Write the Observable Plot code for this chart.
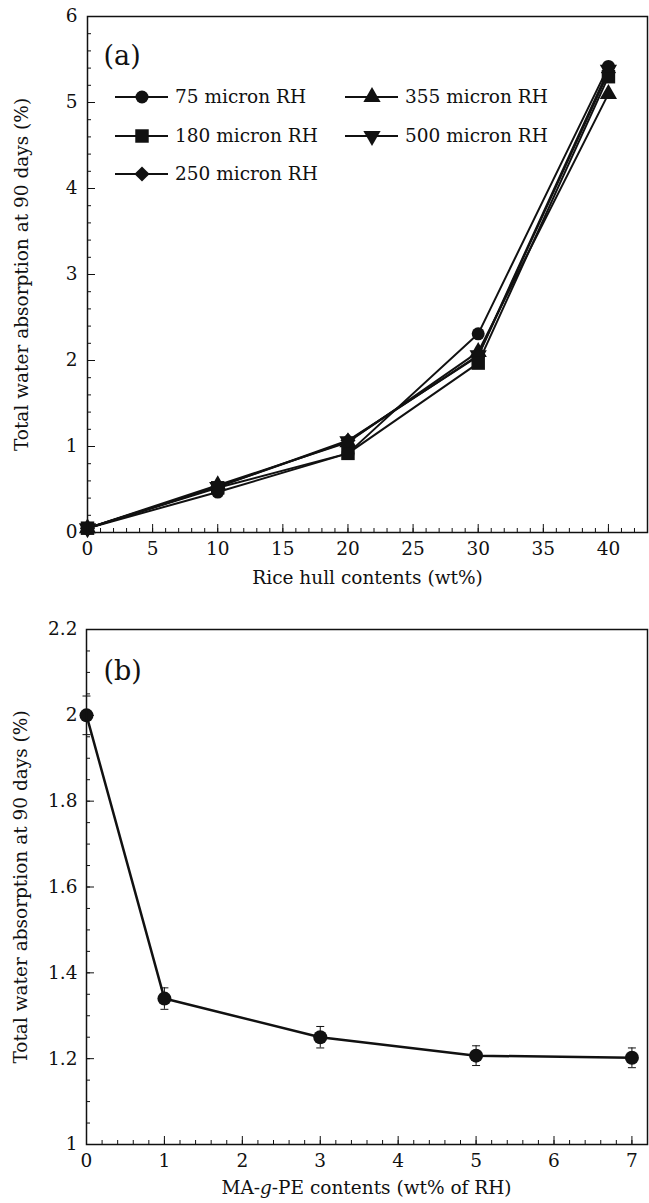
<!DOCTYPE html>
<html>
<head>
<meta charset="utf-8">
<script src="https://cdn.jsdelivr.net/npm/d3@7"></script>
<script src="https://cdn.jsdelivr.net/npm/@observablehq/plot@0.6"></script>
<style>
  body { margin: 0; background: #fff; }
  #a, #b { width: 649px; }
  svg { display: block; }
</style>
</head>
<body>
<div id="a"></div>
<div id="b"></div>
<script>
// ---------- Data: panel (a) ----------
const rhContents = [0, 10, 20, 30, 40];
const series75  = [0.05, 0.47, 0.92, 2.31, 5.42];
const series180 = [0.05, 0.52, 0.92, 1.97, 5.30];
const series250 = [0.05, 0.53, 1.07, 2.05, 5.35];
const series355 = [0.05, 0.55, 1.05, 2.10, 5.10];
const series500 = [0.05, 0.53, 1.06, 2.06, 5.38];
const seriesNames = ["75 micron RH", "180 micron RH", "250 micron RH", "355 micron RH", "500 micron RH"];
const xTicksA = [0, 5, 10, 15, 20, 25, 30, 35, 40];
const yTicksA = [0, 1, 2, 3, 4, 5, 6];

// ---------- Data: panel (b) ----------
const maContents = [0, 1, 3, 5, 7];
const absorptionB = [2.0, 1.34, 1.25, 1.207, 1.202];
const errorB = [0.045, 0.025, 0.025, 0.023, 0.023];
const xTicksB = [0, 1, 2, 3, 4, 5, 6, 7];
const yTicksB = [1, 1.2, 1.4, 1.6, 1.8, 2, 2.2];

const FONT = "DejaVu Serif";
const FS = 18.5;
const INK = "#111";

const triangleDown = {
  draw(context, size) {
    const s3 = Math.sqrt(3);
    const y = -Math.sqrt(size / (s3 * 3));
    context.moveTo(0, -y * 2);
    context.lineTo(-s3 * y, y);
    context.lineTo(s3 * y, y);
    context.closePath();
  }
};
const hline = {
  draw(context, size) {
    const w = Math.sqrt(size);
    context.moveTo(-w / 2, 0);
    context.lineTo(w / 2, 0);
  }
};

const seriesValues = [series75, series180, series250, series355, series500];
const seriesSymbols = ["circle", "square", "diamond2", "triangle", triangleDown];
const seriesR = [6.5, 7.6, 6.8, 6.4, 6.4];

const rowsA = [];
seriesNames.forEach((name, i) => {
  rhContents.forEach((x, j) => rowsA.push({series: name, x, y: seriesValues[i][j]}));
});

function ticksOnly(axis, values, size) {
  return (axis === "x" ? Plot.axisX : Plot.axisY)(values, {
    tickSize: -size, tickFormat: () => "", label: null, stroke: INK
  });
}

// Legend as render function (inside the frame, top-left)
function legendMark(index, scales, values, dimensions) {
  const g = d3.create("svg:g");
  const left = dimensions.marginLeft, top = dimensions.marginTop;
  const cols = [[0, 1, 2], [3, 4]];
  const colX = [28, 258];
  const rowY = [81, 120, 158];
  cols.forEach((col, ci) => {
    col.forEach((si, ri) => {
      const x0 = left + colX[ci], y0 = top + rowY[ri];
      g.append("line").attr("x1", x0).attr("x2", x0 + 53).attr("y1", y0).attr("y2", y0)
        .attr("stroke", INK).attr("stroke-width", 2);
      const sym = seriesSymbols[si];
      const symType = typeof sym === "string"
        ? {circle: d3.symbolCircle, square: d3.symbolSquare, diamond2: d3.symbolDiamond2, triangle: d3.symbolTriangle}[sym]
        : sym;
      const size = Math.PI * seriesR[si] * seriesR[si];
      g.append("path").attr("d", d3.symbol(symType, size)())
        .attr("transform", `translate(${x0 + 27},${y0})`).attr("fill", INK);
      g.append("text").attr("x", x0 + 60).attr("y", y0).attr("dy", "0.35em")
        .attr("text-anchor", "start")
        .attr("font-family", FONT).attr("font-size", 18.5).attr("fill", INK)
        .text(seriesNames[si]);
    });
  });
  return g.node();
}

function xTitleB(index, scales, values, dim) {
  const t = d3.create("svg:text")
    .attr("x", (dim.marginLeft + dim.width - dim.marginRight) / 2)
    .attr("y", dim.height - dim.marginBottom + 44)
    .attr("dy", "0.32em").attr("text-anchor", "middle")
    .attr("font-family", FONT).attr("font-size", FS).attr("fill", INK);
  t.append("tspan").text("MA-");
  t.append("tspan").attr("font-style", "italic").text("g");
  t.append("tspan").text("-PE contents (wt% of RH)");
  return t.node();
}

const plotA = Plot.plot({
  width: 649,
  height: 600,
  marginLeft: 87,
  marginRight: 2,
  marginTop: 16,
  marginBottom: 68,
  style: {fontFamily: FONT, fontSize: FS + "px", color: INK, background: "#fff"},
  x: {domain: [0, 43]},
  y: {domain: [0, 6]},
  marks: [
    ticksOnly("x", xTicksA, 8),
    ticksOnly("x", d3.range(0, 44), 4),
    ticksOnly("y", yTicksA, 8),
    ticksOnly("y", d3.range(0, 31).map(i => i * 0.2), 4),
    Plot.axisX(xTicksA, {tickSize: 0, tickPadding: 9, label: null, fontSize: FS, tickFormat: d => String(d)}),
    Plot.axisY(yTicksA, {tickSize: 0, tickPadding: 10, label: null, fontSize: FS, tickFormat: d => String(d)}),
    Plot.text(["Rice hull contents (wt%)"], {frameAnchor: "bottom", dy: 51, fontSize: FS, fill: INK, textAnchor: "middle"}),
    Plot.text(["Total water absorption at 90 days (%)"], {frameAnchor: "left", dx: -65, rotate: -90, fontSize: FS, fill: INK, textAnchor: "middle"}),
    Plot.text(["(a)"], {frameAnchor: "top-left", dx: 16, dy: 29, fontSize: 27, textAnchor: "start", fill: INK}),
    Plot.line(rowsA, {x: "x", y: "y", z: "series", stroke: INK, strokeWidth: 2}),
    ...seriesNames.map((name, i) => Plot.dot(rowsA.filter(d => d.series === name), {
      x: "x", y: "y", symbol: seriesSymbols[i], r: seriesR[i], fill: INK, stroke: "none"
    })).reverse(),
    legendMark,
    Plot.frame({stroke: INK, strokeWidth: 1.5})
  ]
});
document.getElementById("a").append(plotA);

const rowsB = maContents.map((x, i) => ({x, y: absorptionB[i], e: errorB[i]}));

const plotB = Plot.plot({
  width: 649,
  height: 603,
  marginLeft: 86,
  marginRight: 2,
  marginTop: 29,
  marginBottom: 59,
  style: {fontFamily: FONT, fontSize: FS + "px", color: INK, background: "#fff"},
  x: {domain: [0, 7.2]},
  y: {domain: [1, 2.2]},
  marks: [
    ticksOnly("x", xTicksB, 8),
    ticksOnly("x", d3.range(0, 37).map(i => i * 0.2), 4),
    ticksOnly("y", yTicksB, 8),
    ticksOnly("y", d3.range(0, 25).map(i => 1 + i * 0.05), 4),
    Plot.axisX(xTicksB, {tickSize: 0, tickPadding: 9, label: null, fontSize: FS, tickFormat: d => String(d)}),
    Plot.axisY(yTicksB, {tickSize: 0, tickPadding: 9, label: null, fontSize: FS, tickFormat: d => String(+d.toFixed(1))}),
    xTitleB,
    Plot.text(["Total water absorption at 90 days (%)"], {frameAnchor: "left", dx: -65, rotate: -90, fontSize: FS, fill: INK, textAnchor: "middle"}),
    Plot.text(["(b)"], {frameAnchor: "top-left", dx: 17, dy: 31, fontSize: 27, textAnchor: "start", fill: INK}),
    Plot.ruleX(rowsB, {x: "x", y1: d => d.y - d.e, y2: d => d.y + d.e, stroke: INK, strokeWidth: 1}),
    Plot.dot(rowsB, {x: "x", y: d => d.y - d.e, symbol: hline, r: 4.5, stroke: INK, strokeWidth: 1, fill: "none"}),
    Plot.dot(rowsB, {x: "x", y: d => d.y + d.e, symbol: hline, r: 4.5, stroke: INK, strokeWidth: 1, fill: "none"}),
    Plot.line(rowsB, {x: "x", y: "y", stroke: INK, strokeWidth: 2.5}),
    Plot.dot(rowsB, {x: "x", y: "y", r: 7, fill: INK, stroke: "none"}),
    Plot.frame({stroke: INK, strokeWidth: 1.5})
  ]
});
document.getElementById("b").append(plotB);
</script>
</body>
</html>
